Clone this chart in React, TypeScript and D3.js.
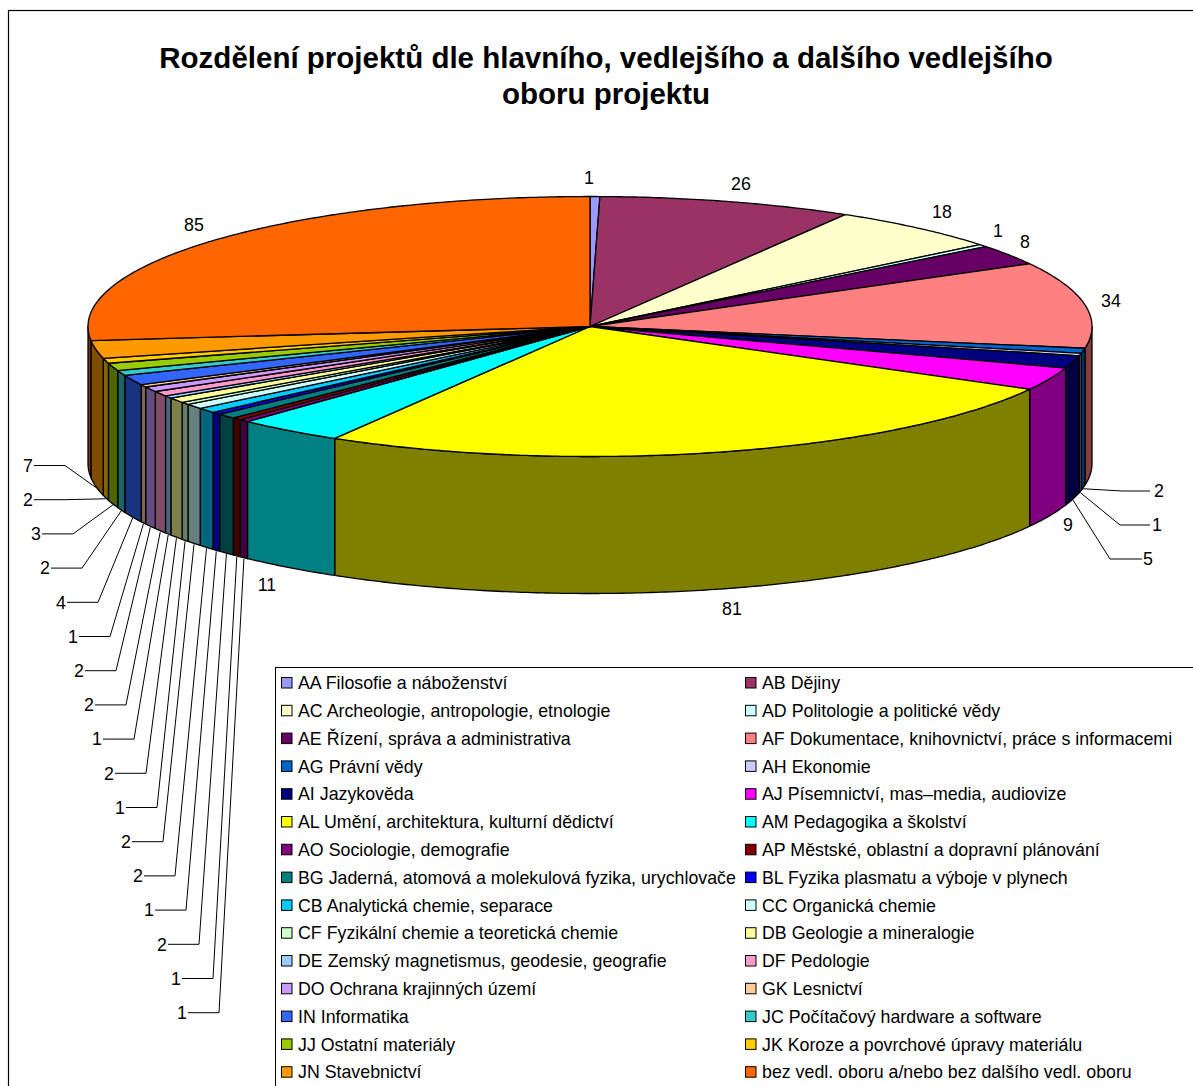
import React from "react";
import * as d3 from "d3";

const TITLE_LINES = [
  "Rozdělení projektů dle hlavního, vedlejšího a dalšího vedlejšího",
  "oboru projektu",
];
const CATEGORIES = [
  "AA Filosofie a náboženství", "AB Dějiny",
  "AC Archeologie, antropologie, etnologie", "AD Politologie a politické vědy",
  "AE Řízení, správa a administrativa", "AF Dokumentace, knihovnictví, práce s informacemi",
  "AG Právní vědy", "AH Ekonomie",
  "AI Jazykověda", "AJ Písemnictví, mas–media, audiovize",
  "AL Umění, architektura, kulturní dědictví", "AM Pedagogika a školství",
  "AO Sociologie, demografie", "AP Městské, oblastní a dopravní plánování",
  "BG Jaderná, atomová a molekulová fyzika, urychlovače", "BL Fyzika plasmatu a výboje v plynech",
  "CB Analytická chemie, separace", "CC Organická chemie",
  "CF Fyzikální chemie a teoretická chemie", "DB Geologie a mineralogie",
  "DE Zemský magnetismus, geodesie, geografie", "DF Pedologie",
  "DO Ochrana krajinných území", "GK Lesnictví",
  "IN Informatika", "JC Počítačový hardware a software",
  "JJ Ostatní materiály", "JK Koroze a povrchové úpravy materiálu",
  "JN Stavebnictví", "bez vedl. oboru a/nebo bez dalšího vedl. oboru",
];
const VALUES = [1, 26, 18, 1, 8, 34, 2, 1, 5, 9, 81, 11, 1, 1, 2, 1, 2, 2, 1, 2, 1, 2, 2, 1, 4, 2, 3, 2, 7, 85];
const COLORS = [
  "#9999FF", "#993366", "#FFFFCC", "#CCFFFF", "#660066", "#FF8080", "#0066CC", "#CCCCFF", "#000080", "#FF00FF",
  "#FFFF00", "#00FFFF", "#800080", "#800000", "#008080", "#0000FF", "#00CCFF", "#CCFFFF", "#CCFFCC", "#FFFF99",
  "#99CCFF", "#FF99CC", "#CC99FF", "#FFCC99", "#3366FF", "#33CCCC", "#99CC00", "#FFCC00", "#FF9900", "#FF6600",
];

// Layout only
const W = 1193, H = 1086;
const CX = 590, CY = 326.5, RX = 502, RY = 130, DEPTH = 137;
const FONT = "'Liberation Sans', Arial, sans-serif";
const LEFT_FIRST = 12; // index of first slice with a left leader
const LEFT_ELBOW_X = [219, 213, 199, 186, 175, 163, 157, 146, 134, 126, 116, 110, 98, 82, 73, 65, 65];
const RIGHT_LEADERS: Record<number, { ex: number; ey: number; sx: number; lx: number }> = {
  6: { ex: 1122, ey: 491, sx: 1150, lx: 1159 },
  7: { ex: 1120, ey: 525, sx: 1150, lx: 1157 },
  8: { ex: 1110, ey: 559, sx: 1142, lx: 1148 },
};
const OUTSIDE_LABELS: Record<number, [number, number]> = {
  0: [589, 178], 1: [741, 184], 2: [942, 212], 3: [998, 231], 4: [1025, 242], 5: [1111, 301],
  9: [1068, 525], 10: [732, 609], 11: [267, 585], 29: [194, 225],
};

const arcs = d3.pie<number>().sort(null).value((d) => d)(VALUES);
const px = (t: number) => CX + RX * Math.sin(t);
const py = (t: number) => CY - RY * Math.cos(t);
const line = d3.line<[number, number]>().x((d) => d[0]).y((d) => d[1]);

const sample = (a: number, b: number): number[] => {
  const n = Math.max(2, Math.ceil(Math.abs(b - a) / 0.01));
  return d3.range(n + 1).map((i) => a + ((b - a) * i) / n);
};

const topPath = (a: number, b: number) => {
  const pts: [number, number][] = [[CX, CY], ...sample(a, b).map((t) => [px(t), py(t)] as [number, number])];
  return line(pts) + "Z";
};
const sidePath = (a0: number, b0: number) => {
  const a = Math.max(a0, Math.PI / 2), b = Math.min(b0, (3 * Math.PI) / 2);
  if (b <= a) return null;
  const ts = sample(a, b);
  const pts: [number, number][] = [
    ...ts.map((t) => [px(t), py(t)] as [number, number]),
    ...ts.slice().reverse().map((t) => [px(t), py(t) + DEPTH] as [number, number]),
  ];
  return line(pts) + "Z";
};
const shade = (c: string) => {
  const r = d3.rgb(c);
  return d3.rgb(r.r / 2, r.g / 2, r.b / 2).formatHex();
};

export default function App() {
  const text = { fontFamily: FONT, fontSize: 17.8, fill: "#000" } as const;
  return (
    <svg width={W} height={H} viewBox={`0 0 ${W} ${H}`} style={{ position: "absolute", left: 0, top: 0, display: "block", background: "#fff" }}>
      <rect x={8.5} y={10.5} width={W + 20} height={H + 20} fill="#fff" stroke="#000" strokeWidth={1.2} />
      {TITLE_LINES.map((t, i) => (
        <text key={t} x={606} y={68 + i * 36} textAnchor="middle" fontFamily={FONT} fontWeight="bold" fontSize={29.5} fill="#000">{t}</text>
      ))}
      {arcs.map((a, i) => {
        const d = sidePath(a.startAngle, a.endAngle);
        return d ? <path key={"s" + i} d={d} fill={shade(COLORS[i])} stroke="#000" strokeWidth={1.3} strokeLinejoin="round" /> : null;
      })}
      {arcs.map((a, i) => (
        <path key={"t" + i} d={topPath(a.startAngle, a.endAngle)} fill={COLORS[i]} stroke="#000" strokeWidth={1.3} strokeLinejoin="round" />
      ))}
      {arcs.map((a, i) => {
        const mid = (a.startAngle + a.endAngle) / 2;
        const rimX = px(mid), rimY = py(mid) + DEPTH + 1;
        if (i >= LEFT_FIRST && i < LEFT_FIRST + LEFT_ELBOW_X.length) {
          const k = i - LEFT_FIRST;
          const ex = LEFT_ELBOW_X[k], ey = 1012.7 - 34.2 * k;
          return (
            <g key={"l" + i}>
              <path d={line([[rimX, rimY], [ex, ey], [ex - 31, ey]])!} fill="none" stroke="#000" strokeWidth={1} />
              <text {...text} x={ex - 37} y={ey + 6.3} textAnchor="middle">{VALUES[i]}</text>
            </g>
          );
        }
        const r = RIGHT_LEADERS[i];
        if (r) {
          return (
            <g key={"l" + i}>
              <path d={line([[rimX, rimY], [r.ex, r.ey], [r.sx, r.ey]])!} fill="none" stroke="#000" strokeWidth={1} />
              <text {...text} x={r.lx} y={r.ey + 6.3} textAnchor="middle">{VALUES[i]}</text>
            </g>
          );
        }
        const o = OUTSIDE_LABELS[i];
        return o ? <text key={"l" + i} {...text} x={o[0]} y={o[1] + 6.3} textAnchor="middle">{VALUES[i]}</text> : null;
      })}
      <rect x={275.5} y={667.5} width={W} height={H} fill="#fff" stroke="#000" strokeWidth={1} />
      {CATEGORIES.map((c, i) => {
        const col = i % 2, row = Math.floor(i / 2);
        const y = 683 + row * 27.8;
        return (
          <g key={c}>
            <rect x={col ? 745.5 : 281.5} y={y - 5.5} width={10.5} height={10.5} fill={COLORS[i]} stroke="#000" strokeWidth={1} />
            <text {...text} x={col ? 762 : 298} y={y + 6.2}>{c}</text>
          </g>
        );
      })}
    </svg>
  );
}
